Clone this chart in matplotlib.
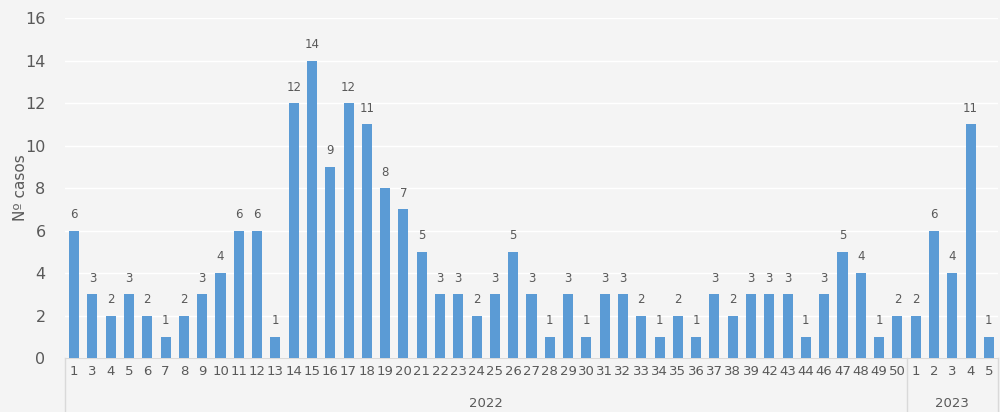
import numpy as np
import matplotlib.pyplot as plt

# weeks and cases
weeks_2022 = ['1', '3', '4', '5', '6', '7', '8', '9', '10', '11', '12', '13',
              '14', '15', '16', '17', '18', '19', '20', '21', '22', '23', '24', '25',
              '26', '27', '28', '29', '30', '31', '32', '33', '34', '35', '36', '37',
              '38', '39', '42', '43', '44', '46', '47', '48', '49', '50']
cases_2022 = [6, 3, 2, 3, 2, 1, 2, 3, 4, 6, 6, 1,
              12, 14, 9, 12, 11, 8, 7, 5, 3, 3, 2, 3,
              5, 3, 1, 3, 1, 3, 3, 2, 1, 2, 1, 3,
              2, 3, 3, 3, 1, 3, 5, 4, 1, 2]
weeks_2023 = ['1', '2', '3', '4', '5']
cases_2023 = [2, 6, 4, 11, 1]
years = ['2022', '2023']

labels = weeks_2022 + weeks_2023
values = cases_2022 + cases_2023
x = np.arange(len(values))

bg = '#f4f4f4'
txt = '#595959'

fig = plt.figure(figsize=(10, 4.12), dpi=100, facecolor=bg)
ax = fig.add_axes([0.065, 0.131, 0.933, 0.825], facecolor=bg)

bars = ax.bar(x, values, width=0.55, color='#5b9bd5', zorder=3)
for xi, v in zip(x, values):
    ax.text(xi, v + 0.45, str(v), ha='center', va='bottom', fontsize=8.5, color=txt)

ax.set_ylim(0, 16)
ax.set_xlim(-0.5, len(values) - 0.5)
ax.set_yticks(range(0, 17, 2))
ax.tick_params(axis='y', length=0, labelsize=11.5, labelcolor=txt, pad=14)
ax.set_xticks(x)
ax.set_xticklabels(labels)
ax.tick_params(axis='x', length=0, labelsize=9.5, labelcolor=txt, pad=5)
ax.grid(axis='y', color='white', linewidth=1, zorder=0)
ax.set_ylabel('Nº casos', fontsize=11, color=txt)
ax.yaxis.set_label_coords(-0.04, 0.5)
for s in ['top', 'right', 'left']:
    ax.spines[s].set_visible(False)
ax.spines['bottom'].set_color('#d9d9d9')

# year grouping
trans = ax.get_xaxis_transform()
n22 = len(weeks_2022)
for xd in [-0.5, n22 - 0.5, len(values) - 0.5]:
    ax.plot([xd, xd], [0, -0.17], transform=trans, color='#d9d9d9',
            linewidth=1, clip_on=False)
ax.text((n22 - 1) / 2, -0.135, years[0], transform=trans, ha='center',
        va='center', fontsize=9.5, color=txt)
ax.text(n22 + (len(weeks_2023) - 1) / 2, -0.135, years[1], transform=trans,
        ha='center', va='center', fontsize=9.5, color=txt)

plt.savefig('out.png', dpi=100, facecolor=bg)
